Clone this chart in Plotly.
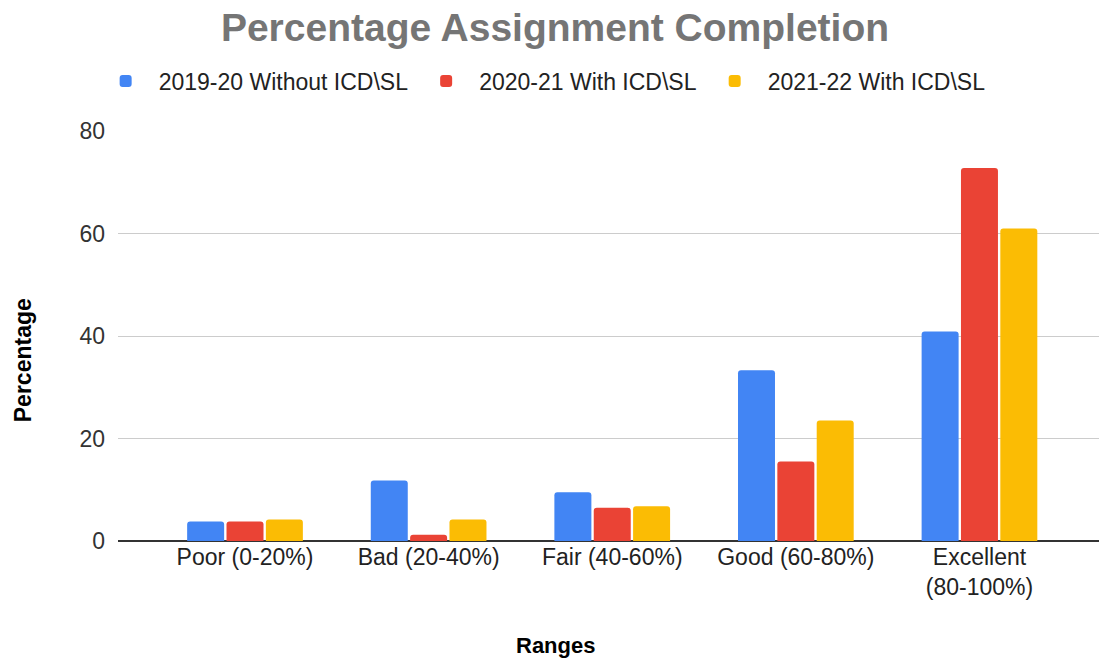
import plotly.graph_objects as go

categories = ["Poor (0-20%)", "Bad (20-40%)", "Fair (40-60%)", "Good (60-80%)", "Excellent<br>(80-100%)"]
series_names = ["2019-20 Without ICD\\SL", "2020-21 With ICD\\SL", "2021-22 With ICD\\SL"]
vals_2019 = [3.8, 11.8, 9.5, 33.3, 40.9]
vals_2020 = [3.8, 1.2, 6.5, 15.5, 72.8]
vals_2021 = [4.2, 4.2, 6.8, 23.5, 61.0]
colors = ["#4285f4", "#ea4335", "#fbbc04"]
y_ticks = [0, 20, 40, 60, 80]
y_title = "Percentage"
x_title = "Ranges"

font = "Liberation Sans, Arial, sans-serif"
fig = go.Figure()
for name, vals, c in zip(series_names, [vals_2019, vals_2020, vals_2021], colors):
    fig.add_trace(go.Bar(x=categories, y=vals, name=name,
                         marker=dict(color=c, line=dict(width=0))))

fig.update_layout(
    width=1099, height=659,
    paper_bgcolor="white", plot_bgcolor="white",
    margin=dict(l=118, r=0, t=131, b=118, autoexpand=False),
    barmode="group", bargap=0.357, bargroupgap=0.06, barcornerradius=3,
    font=dict(family=font, size=23, color="#222222"),
    title=dict(text="<b>Percentage Assignment Completion</b>", x=0.505, xref="container", xanchor="center",
               y=0.959, yref="container", yanchor="middle", automargin=False,
               font=dict(family=font, size=39, color="#757575")),
    legend=dict(orientation="h", xref="container", x=0.0843, xanchor="left", y=1.122, yanchor="middle",
                font=dict(family=font, size=23, color="#222222"), itemwidth=56,
                bgcolor="rgba(0,0,0,0)", borderwidth=0, traceorder="normal"),
    xaxis=dict(type="category", range=[-0.6917, 4.651], showgrid=False, showline=False,
               ticks="", tickfont=dict(size=23, color="#222222"), automargin=False),
    yaxis=dict(range=[0, 80], tickvals=y_ticks, showgrid=True, gridcolor="#cccccc", gridwidth=1,
               zeroline=True, zerolinecolor="#333333", zerolinewidth=1.5, showline=False,
               ticks="", tickfont=dict(size=23, color="#333333"), ticklabelstandoff=12, automargin=False),
    annotations=[
        dict(text="<b>" + y_title + "</b>", textangle=-90, xref="paper", yref="paper",
             x=-0.0968, y=0.441, xanchor="center", yanchor="middle", showarrow=False,
             font=dict(family=font, size=23, color="#000000")),
        dict(text="<b>" + x_title + "</b>", xref="paper", yref="paper",
             x=0.446, y=-0.254, xanchor="center", yanchor="middle", showarrow=False,
             font=dict(family=font, size=22, color="#000000")),
    ],
)
fig.write_html("out.html", config={"displayModeBar": False},
               post_script="document.body.style.margin='0';")
